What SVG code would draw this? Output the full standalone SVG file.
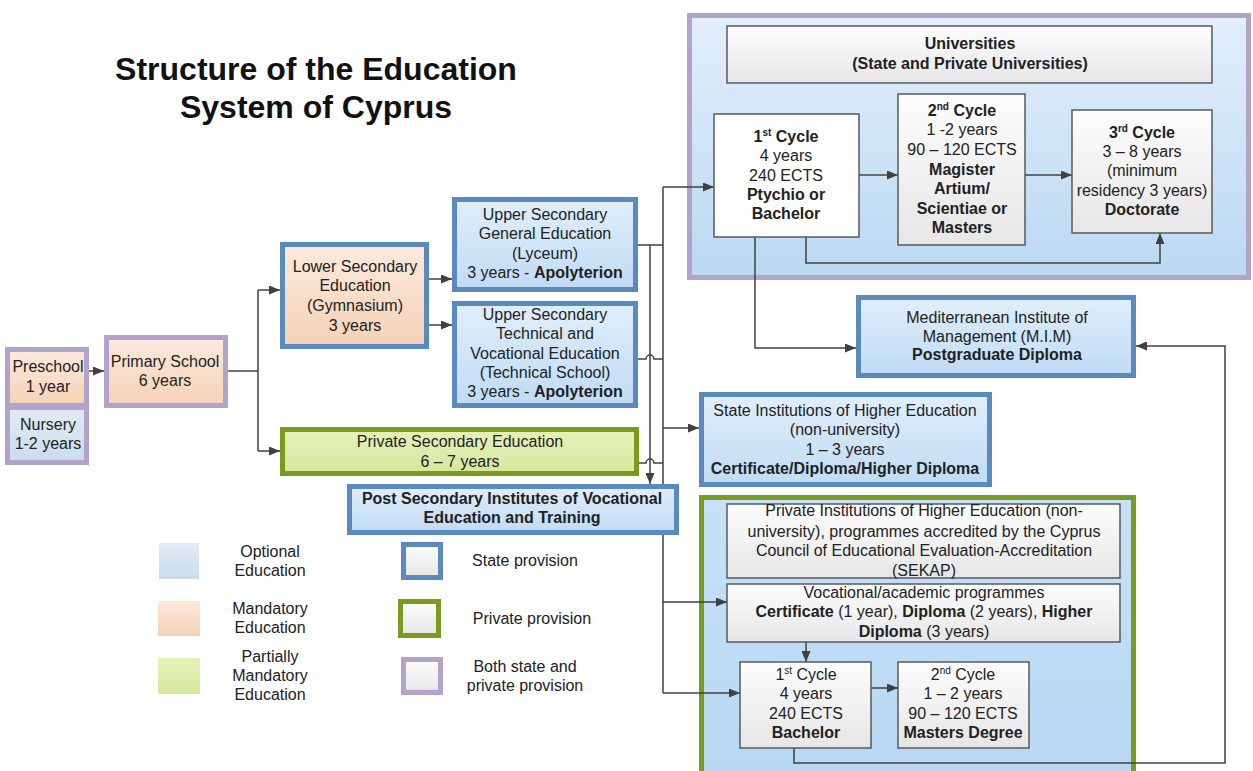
<svg xmlns="http://www.w3.org/2000/svg" width="1253" height="771" viewBox="0 0 1253 771">
<defs>
<style>
.t{font-family:"Liberation Sans",Arial,sans-serif;font-size:16px;fill:#222;text-anchor:middle}
.b{font-weight:bold}
.sup{font-size:10px}
.title{font-family:"Liberation Sans",Arial,sans-serif;font-size:32px;font-weight:bold;fill:#111;text-anchor:middle}
.state{stroke:#5A8AC0;stroke-width:5}
.priv{stroke:#7A9A20;stroke-width:5}
.both{stroke:#B1A3CB;stroke-width:5}
.gbox{stroke:#595959;stroke-width:1.5;fill:url(#gGray)}
.con{fill:none;stroke:#404040;stroke-width:1.5}
.arr{marker-end:url(#ah)}
</style>
<linearGradient id="gBlue" x1="0" y1="0" x2="0" y2="1"><stop offset="0" stop-color="#E0EEFB"/><stop offset="1" stop-color="#C0DBF4"/></linearGradient>
<linearGradient id="gPeach" x1="0" y1="0" x2="0" y2="1"><stop offset="0" stop-color="#FCEADD"/><stop offset="1" stop-color="#F5D1B6"/></linearGradient>
<linearGradient id="gGreen" x1="0" y1="0" x2="0" y2="1"><stop offset="0" stop-color="#E6F1BA"/><stop offset="1" stop-color="#D5E89C"/></linearGradient>
<linearGradient id="gGray" x1="0" y1="0" x2="0" y2="1"><stop offset="0" stop-color="#FDFDFD"/><stop offset="1" stop-color="#E6E6E6"/></linearGradient>
<linearGradient id="gOpt" x1="0" y1="0" x2="0" y2="1"><stop offset="0" stop-color="#E3EBF4"/><stop offset="1" stop-color="#C9DCEE"/></linearGradient>
<linearGradient id="gCont" x1="0" y1="0" x2="0" y2="1"><stop offset="0" stop-color="#E2EFFB"/><stop offset="1" stop-color="#BBD8F2"/></linearGradient>
<linearGradient id="gCont2" x1="0" y1="0" x2="0" y2="1"><stop offset="0" stop-color="#C8E1F7"/><stop offset="1" stop-color="#B6D7F3"/></linearGradient>
<marker id="ah" markerUnits="userSpaceOnUse" markerWidth="11" markerHeight="9" refX="11" refY="4.5" orient="auto"><path d="M0,0 L11,4.5 L0,9 z" fill="#404040"/></marker>
</defs>

<g id="title">
<text class="title" x="316" y="80">Structure of the Education</text>
<text class="title" x="316" y="118">System of Cyprus</text>
</g>

<g id="universities-container">
<rect x="689.5" y="15.5" width="559" height="262" fill="url(#gCont)" class="both"/>
</g>
<g id="private-higher-container">
<rect x="701.5" y="497.5" width="432" height="290" fill="url(#gCont2)" class="priv"/>
</g>

<g id="connectors">
<path class="con arr" d="M89 371 H104"/>
<path class="con" d="M228 371 H258 M258 290 V451"/>
<path class="con arr" d="M258 290 H280"/>
<path class="con arr" d="M258 451 H280"/>
<path class="con arr" d="M429 279 H452"/>
<path class="con arr" d="M429 325 H452"/>
<path class="con" d="M638 245 H663"/>
<path class="con arr" d="M650 245 V484"/>
<path class="con" d="M638 359 H646 a4 4 0 0 1 8 0 H663"/>
<path class="con" d="M638 463 H646 a4 4 0 0 1 8 0 H663"/>
<path class="con" d="M663 187 V693"/>
<path class="con arr" d="M663 187 H714"/>
<path class="con arr" d="M663 428 H699"/>
<path class="con arr" d="M663 602 H727"/>
<path class="con arr" d="M663 693 H740"/>
<path class="con arr" d="M859 175 H898"/>
<path class="con arr" d="M1025 175 H1072"/>
<path class="con arr" d="M806 237 V263 H1160 V233"/>
<path class="con arr" d="M755 237 V348 H856"/>
<path class="con arr" d="M806 642 V662"/>
<path class="con arr" d="M871 688 H898"/>
<path class="con arr" d="M794 748 V763 H1225 V346 H1136"/>
</g>

<g id="preschool">
<rect x="7.5" y="349.5" width="79" height="56" fill="url(#gPeach)" class="both"/>
<text class="t" x="48" y="372">Preschool</text>
<text class="t" x="48" y="392">1 year</text>
</g>
<g id="nursery">
<rect x="7.5" y="407.5" width="79" height="55" fill="url(#gOpt)" class="both"/>
<text class="t" x="48" y="430">Nursery</text>
<text class="t" x="48" y="449">1-2 years</text>
</g>
<g id="primary">
<rect x="106.5" y="337.5" width="119" height="68" fill="url(#gPeach)" class="both"/>
<text class="t" x="165" y="367">Primary School</text>
<text class="t" x="165" y="386">6 years</text>
</g>
<g id="lower-secondary">
<rect x="282.5" y="244.5" width="144" height="102" fill="url(#gPeach)" class="state"/>
<text class="t" x="355" y="272">Lower Secondary</text>
<text class="t" x="355" y="291">Education</text>
<text class="t" x="355" y="311">(Gymnasium)</text>
<text class="t" x="355" y="331">3 years</text>
</g>
<g id="upper-general">
<rect x="454.5" y="199.5" width="181" height="90" fill="url(#gBlue)" class="state"/>
<text class="t" x="545" y="220">Upper Secondary</text>
<text class="t" x="545" y="239">General Education</text>
<text class="t" x="545" y="259">(Lyceum)</text>
<text class="t" x="545" y="278">3 years - <tspan class="b">Apolyterion</tspan></text>
</g>
<g id="upper-technical">
<rect x="454.5" y="303.5" width="181" height="102" fill="url(#gBlue)" class="state"/>
<text class="t" x="545" y="320">Upper Secondary</text>
<text class="t" x="545" y="339">Technical and</text>
<text class="t" x="545" y="359">Vocational Education</text>
<text class="t" x="545" y="378">(Technical School)</text>
<text class="t" x="545" y="397">3 years - <tspan class="b">Apolyterion</tspan></text>
</g>
<g id="private-secondary">
<rect x="282.5" y="429.5" width="354" height="44" fill="url(#gGreen)" class="priv"/>
<text class="t" x="460" y="447">Private Secondary Education</text>
<text class="t" x="460" y="467">6 – 7 years</text>
</g>
<g id="post-secondary">
<rect x="349.5" y="486.5" width="327" height="46" fill="url(#gBlue)" class="state"/>
<text class="t b" x="512" y="504">Post Secondary Institutes of Vocational</text>
<text class="t b" x="512" y="523">Education and Training</text>
</g>

<g id="universities-header">
<rect x="727" y="26" width="485" height="57" class="gbox"/>
<text class="t b" x="970" y="49">Universities</text>
<text class="t b" x="970" y="69">(State and Private Universities)</text>
</g>
<g id="uni-cycle1">
<rect x="714" y="114" width="145" height="123" fill="#FFFFFF" stroke="#595959" stroke-width="1.5"/>
<text class="t b" x="786" y="142">1<tspan class="sup" dy="-6">st</tspan><tspan dy="6"> Cycle</tspan></text>
<text class="t" x="786" y="161">4 years</text>
<text class="t" x="786" y="181">240 ECTS</text>
<text class="t b" x="786" y="200">Ptychio or</text>
<text class="t b" x="786" y="219">Bachelor</text>
</g>
<g id="uni-cycle2">
<rect x="898" y="94" width="127" height="151" class="gbox"/>
<text class="t b" x="962" y="116">2<tspan class="sup" dy="-6">nd</tspan><tspan dy="6"> Cycle</tspan></text>
<text class="t" x="962" y="135">1 -2 years</text>
<text class="t" x="962" y="155">90 – 120 ECTS</text>
<text class="t b" x="962" y="175">Magister</text>
<text class="t b" x="962" y="194">Artium/</text>
<text class="t b" x="962" y="214">Scientiae or</text>
<text class="t b" x="962" y="233">Masters</text>
</g>
<g id="uni-cycle3">
<rect x="1072" y="110" width="140" height="123" class="gbox"/>
<text class="t b" x="1142" y="138">3<tspan class="sup" dy="-6">rd</tspan><tspan dy="6"> Cycle</tspan></text>
<text class="t" x="1142" y="157">3 – 8 years</text>
<text class="t" x="1142" y="176">(minimum</text>
<text class="t" x="1142" y="196">residency 3 years)</text>
<text class="t b" x="1142" y="215">Doctorate</text>
</g>

<g id="mim">
<rect x="858.5" y="297.5" width="275" height="78" fill="url(#gBlue)" class="state"/>
<text class="t" x="997" y="323">Mediterranean Institute of</text>
<text class="t" x="997" y="342">Management (M.I.M)</text>
<text class="t b" x="997" y="360">Postgraduate Diploma</text>
</g>
<g id="state-higher">
<rect x="701.5" y="394.5" width="288" height="90" fill="url(#gBlue)" class="state"/>
<text class="t" x="845" y="416">State Institutions of Higher Education</text>
<text class="t" x="845" y="435">(non-university)</text>
<text class="t" x="845" y="455">1 – 3 years</text>
<text class="t b" x="845" y="474">Certificate/Diploma/Higher Diploma</text>
</g>

<g id="private-higher">
<rect x="727" y="504" width="393" height="74" class="gbox"/>
<text class="t" x="924" y="516">Private Institutions of Higher Education (non-</text>
<text class="t" x="924" y="537">university), programmes accredited by the Cyprus</text>
<text class="t" x="924" y="556">Council of Educational Evaluation-Accreditation</text>
<text class="t" x="924" y="576">(SEKAP)</text>
</g>
<g id="vocational">
<rect x="727" y="584" width="393" height="58" class="gbox"/>
<text class="t" x="924" y="598">Vocational/academic programmes</text>
<text class="t" x="924" y="617"><tspan class="b">Certificate</tspan> (1 year), <tspan class="b">Diploma</tspan> (2 years), <tspan class="b">Higher</tspan></text>
<text class="t" x="924" y="637"><tspan class="b">Diploma</tspan> (3 years)</text>
</g>
<g id="priv-cycle1">
<rect x="740" y="662" width="131" height="86" class="gbox"/>
<text class="t" x="806" y="680">1<tspan class="sup" dy="-6">st</tspan><tspan dy="6"> Cycle</tspan></text>
<text class="t" x="806" y="699">4 years</text>
<text class="t" x="806" y="719">240 ECTS</text>
<text class="t b" x="806" y="738">Bachelor</text>
</g>
<g id="priv-cycle2">
<rect x="898" y="662" width="131" height="86" class="gbox"/>
<text class="t" x="963" y="680">2<tspan class="sup" dy="-6">nd</tspan><tspan dy="6"> Cycle</tspan></text>
<text class="t" x="963" y="699">1 – 2 years</text>
<text class="t" x="963" y="719">90 – 120 ECTS</text>
<text class="t b" x="963" y="738">Masters Degree</text>
</g>

<g id="legend">
<rect x="159" y="543" width="40" height="36" fill="url(#gOpt)"/>
<text class="t" x="270" y="557">Optional</text>
<text class="t" x="270" y="576">Education</text>
<rect x="158" y="601" width="42" height="35" fill="url(#gPeach)"/>
<text class="t" x="270" y="614">Mandatory</text>
<text class="t" x="270" y="633">Education</text>
<rect x="158" y="658" width="42" height="36" fill="url(#gGreen)"/>
<text class="t" x="270" y="662">Partially</text>
<text class="t" x="270" y="681">Mandatory</text>
<text class="t" x="270" y="700">Education</text>
<rect x="403.5" y="544.5" width="37" height="33" fill="url(#gGray)" class="state"/>
<text class="t" x="525" y="566">State provision</text>
<rect x="400.5" y="601.5" width="38" height="34" fill="url(#gGray)" class="priv"/>
<text class="t" x="532" y="624">Private provision</text>
<rect x="403.5" y="659.5" width="37" height="33" fill="url(#gGray)" class="both"/>
<text class="t" x="525" y="672">Both state and</text>
<text class="t" x="525" y="691">private provision</text>
</g>
</svg>
